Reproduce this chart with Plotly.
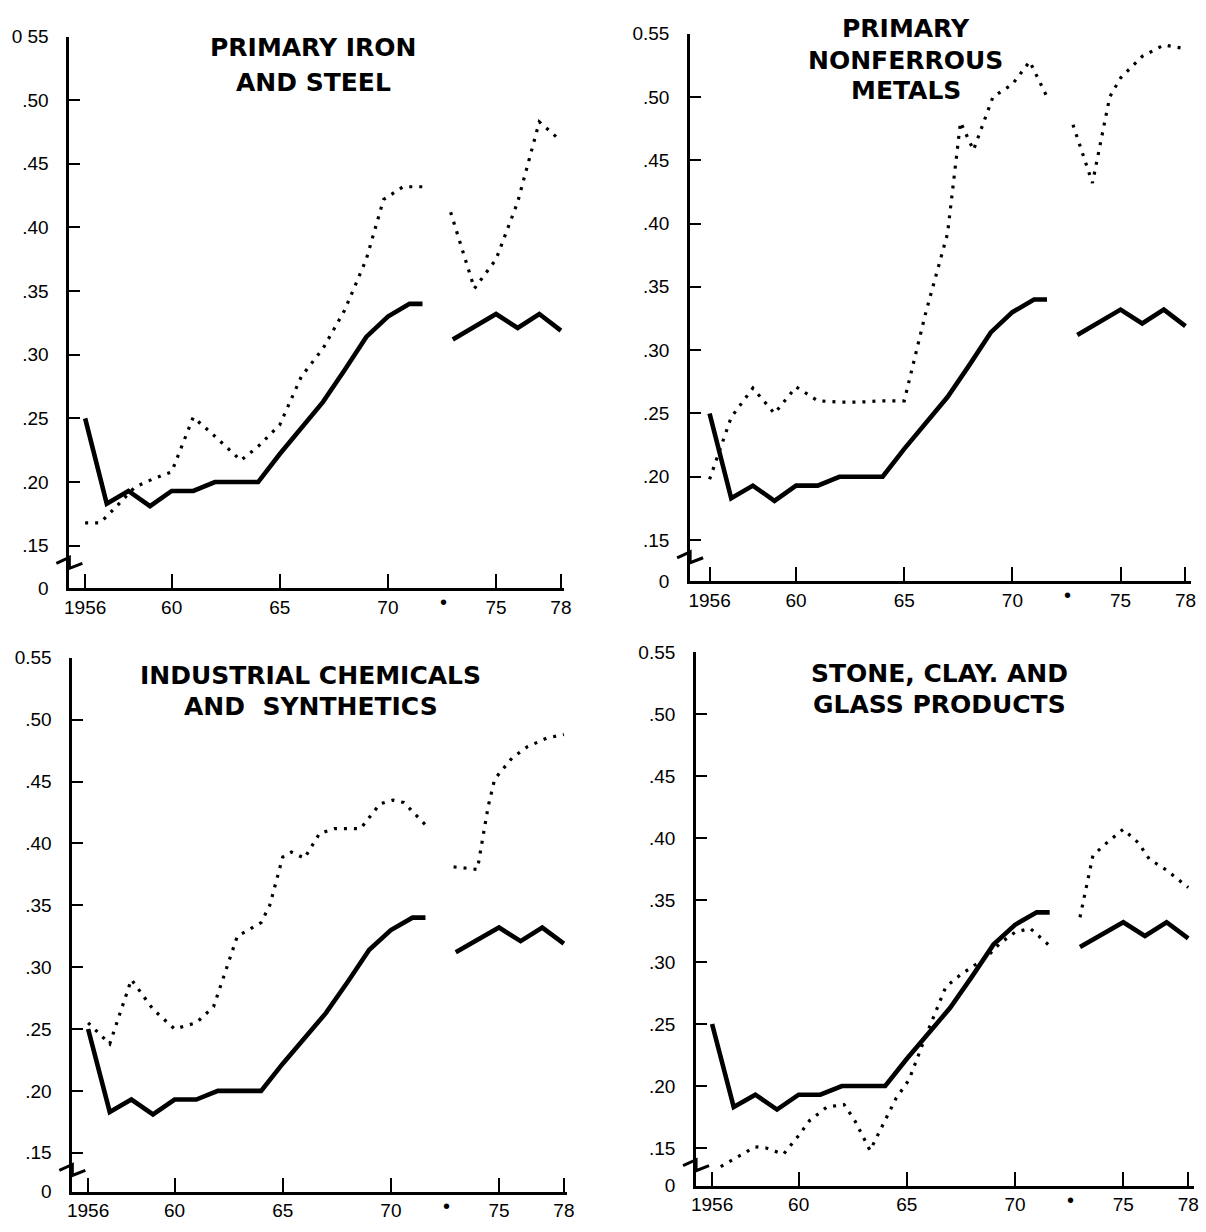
import plotly.graph_objects as go

W, H = 1206, 1232

# ---------------- data ----------------
# common solid series (all four panels)
solid_years_a = [1956, 1957, 1958, 1959, 1960, 1961, 1962, 1963, 1964, 1965,
                 1966, 1967, 1968, 1969, 1970, 1971, 1971.6]
solid_a = [0.250, 0.183, 0.193, 0.181, 0.193, 0.193, 0.200, 0.200, 0.200, 0.222,
           0.243, 0.263, 0.288, 0.314, 0.330, 0.340, 0.340]
solid_years_b = [1973, 1974, 1975, 1976, 1977, 1978]
solid_b = [0.312, 0.322, 0.332, 0.321, 0.332, 0.319]

# Primary iron and steel (dotted)
iron_years_a = [1956, 1956.7, 1957.4, 1958.3, 1959.2, 1960, 1961, 1962, 1963.2, 1964,
                1965, 1966, 1967, 1968, 1969, 1969.8, 1970.7, 1971.7]
iron_a = [0.168, 0.168, 0.180, 0.196, 0.203, 0.208, 0.251, 0.236, 0.217, 0.228,
          0.245, 0.283, 0.305, 0.335, 0.375, 0.422, 0.432, 0.432]
iron_years_b = [1972.9, 1974, 1975, 1976, 1977, 1978]
iron_b = [0.412, 0.352, 0.375, 0.420, 0.483, 0.468]

# Primary nonferrous metals (dotted)
nonf_years_a = [1956, 1957, 1958, 1959, 1960, 1961, 1962, 1963, 1964, 1965,
                1966, 1967, 1967.6, 1968.2, 1969.1, 1970, 1970.8, 1971.6]
nonf_a = [0.198, 0.247, 0.270, 0.250, 0.271, 0.260, 0.259, 0.259, 0.260, 0.260,
          0.330, 0.392, 0.480, 0.458, 0.500, 0.510, 0.528, 0.500]
nonf_years_b = [1972.8, 1973.7, 1974.5, 1975, 1976, 1977, 1978]
nonf_b = [0.478, 0.432, 0.500, 0.515, 0.532, 0.541, 0.538]

# Industrial chemicals and synthetics (dotted)
chem_years_a = [1956, 1957, 1958, 1959, 1960, 1961, 1961.8, 1962.9, 1964, 1964.4,
                1965, 1965.4, 1966, 1966.7, 1967.4, 1968.6, 1969.5, 1970.1, 1970.6, 1971.6]
chem_a = [0.255, 0.238, 0.290, 0.266, 0.250, 0.255, 0.268, 0.325, 0.336, 0.350,
          0.389, 0.393, 0.388, 0.408, 0.412, 0.412, 0.432, 0.435, 0.433, 0.415]
chem_years_b = [1972.9, 1974, 1974.5, 1974.8, 1975.6, 1976.3, 1977.2, 1978]
chem_b = [0.381, 0.379, 0.430, 0.452, 0.469, 0.478, 0.485, 0.488]

# Stone, clay and glass products (dotted)
stone_years_a = [1956.4, 1957, 1958, 1958.5, 1959.3, 1960, 1960.5, 1961.3, 1962.1, 1962.6,
                 1963.3, 1964.5, 1965.1, 1965.8, 1966.8, 1967.5, 1968.7, 1969.3, 1970,
                 1970.7, 1971.6]
stone_a = [0.135, 0.141, 0.151, 0.150, 0.145, 0.160, 0.172, 0.183, 0.185, 0.172,
           0.148, 0.190, 0.205, 0.237, 0.280, 0.290, 0.304, 0.315, 0.324,
           0.327, 0.313]
stone_years_b = [1973, 1973.6, 1974.3, 1975, 1975.7, 1976.2, 1977, 1978]
stone_b = [0.336, 0.386, 0.397, 0.407, 0.396, 0.383, 0.374, 0.360]

# axis labels
x_tickvals = [1956, 1960, 1965, 1970, 1975, 1978]
x_ticktext = ["1956", "60", "65", "70", "75", "78"]
y_tickvals = [0.15, 0.20, 0.25, 0.30, 0.35, 0.40, 0.45, 0.50, 0.55]
y_ticktext = [".15", ".20", ".25", ".30", ".35", ".40", ".45", ".50", "0.55"]
break_year = 1972.55

titles = [
    ["PRIMARY IRON", "AND STEEL"],
    ["PRIMARY", "NONFERROUS", "METALS"],
    ["INDUSTRIAL CHEMICALS", "AND\u00a0 SYNTHETICS"],
    ["STONE, CLAY. AND", "GLASS PRODUCTS"],
]
top_labels = ["0 55", "0.55", "0.55", "0.55"]
dotted = [
    (iron_years_a, iron_a, iron_years_b, iron_b),
    (nonf_years_a, nonf_a, nonf_years_b, nonf_b),
    (chem_years_a, chem_a, chem_years_b, chem_b),
    (stone_years_a, stone_a, stone_years_b, stone_b),
]

# ---------------- layout geometry (window pixels) ----------------
panels = [
    dict(left=65, right=565, top=27, bottom=588, x0=1955.27, x1=1978.16, y0=0.1168,
         title_x=312, title_y=[38, 74]),
    dict(left=692, right=1198, top=24, bottom=581, x0=1955.10, x1=1978.26, y0=0.1176,
         title_x=910, title_y=[19, 51, 82]),
    dict(left=68, right=568, top=659, bottom=1202, x0=1955.27, x1=1978.16, y0=0.1187,
         title_x=309, title_y=[677, 709]),
    dict(left=698, right=1201, top=653, bottom=1196, x0=1955.26, x1=1978.27, y0=0.1197,
         title_x=944, title_y=[675, 707]),
]


def px_x(v):
    return v / W


def px_y(v):
    return 1 - v / H


FONT = "Liberation Sans, Arial, sans-serif"
TITLE_FONT = "DejaVu Sans, Verdana, sans-serif"
fig = go.Figure()
layout = dict(width=W, height=H, margin=dict(l=0, r=0, t=0, b=0), autosize=False,
              paper_bgcolor="white", plot_bgcolor="white", showlegend=False,
              hovermode=False, font=dict(family=FONT, color="black"))
annotations = []
shapes = []

solid_style = dict(color="black", width=4.6)
dot_style = dict(color="black", width=3.2, dash="3px,7px")

for i, p in enumerate(panels):
    n = "" if i == 0 else str(i + 1)
    xa, ya = "x" + n, "y" + n
    dxa, dya, dxb, dyb = dotted[i]
    fig.add_trace(go.Scatter(x=dxa, y=dya, mode="lines", line=dot_style, xaxis=xa, yaxis=ya))
    fig.add_trace(go.Scatter(x=dxb, y=dyb, mode="lines", line=dot_style, xaxis=xa, yaxis=ya))
    fig.add_trace(go.Scatter(x=solid_years_a, y=solid_a, mode="lines", line=solid_style,
                             xaxis=xa, yaxis=ya))
    fig.add_trace(go.Scatter(x=solid_years_b, y=solid_b, mode="lines", line=solid_style,
                             xaxis=xa, yaxis=ya))

    yvals = [p["y0"]] + y_tickvals
    ytext = ["0"] + y_ticktext[:-1] + [top_labels[i]]
    layout["xaxis" + n] = dict(
        domain=[px_x(p["left"]), px_x(p["right"])], range=[p["x0"], p["x1"]], anchor=ya,
        showgrid=False, zeroline=False, showline=True, linecolor="black", linewidth=2.8,
        ticks="inside", ticklen=14, tickwidth=2, tickcolor="black",
        tickvals=x_tickvals, ticktext=x_ticktext, ticklabelstandoff=0,
        tickfont=dict(family=FONT, size=19, color="black"), fixedrange=True)
    layout["yaxis" + n] = dict(
        domain=[px_y(p["bottom"]), px_y(p["top"])], range=[p["y0"], 0.55], anchor=xa,
        showgrid=False, zeroline=False, showline=True, linecolor="black", linewidth=2.8,
        ticks="inside", ticklen=11, tickwidth=2, tickcolor="black",
        tickvals=yvals, ticktext=ytext, ticklabelstandoff=14,
        tickfont=dict(family=FONT, size=19, color="black"), fixedrange=True)

    # series-break marker below the x axis
    annotations.append(dict(x=break_year, y=0, xref=xa, yref=ya + " domain", text="\u2022",
                            showarrow=False, yshift=-14, yanchor="middle",
                            font=dict(family=FONT, size=20, color="black")))
    # panel titles
    for line, ty in zip(titles[i], p["title_y"]):
        annotations.append(dict(x=px_x(p["title_x"]), y=px_y(ty), xref="paper", yref="paper",
                                text=line, showarrow=False, xanchor="center", yanchor="middle",
                                font=dict(family=TITLE_FONT, size=25, color="black",
                                          weight="bold")))
    # axis-break zigzag on the y axis (between .15 and 0)
    ppu = (p["bottom"] - p["top"]) / (0.55 - p["y0"])
    tick15 = p["top"] + (0.55 - 0.15) * ppu
    shapes.append(dict(type="path", xref="paper", yref="paper",
                       xsizemode="pixel", ysizemode="pixel",
                       xanchor=px_x(p["left"]), yanchor=px_y(tick15 + 18),
                       path="M-13,0 L0,6 L0,-5 L13,0",
                       line=dict(color="black", width=3)))

layout["annotations"] = annotations
layout["shapes"] = shapes
fig.update_layout(**layout)
# remove the page's default body margin so figure pixels equal window pixels
fig.write_html("out.html", config={"displayModeBar": False},
               post_script="document.body.style.margin='0';"
                           "document.body.style.overflow='hidden';")
